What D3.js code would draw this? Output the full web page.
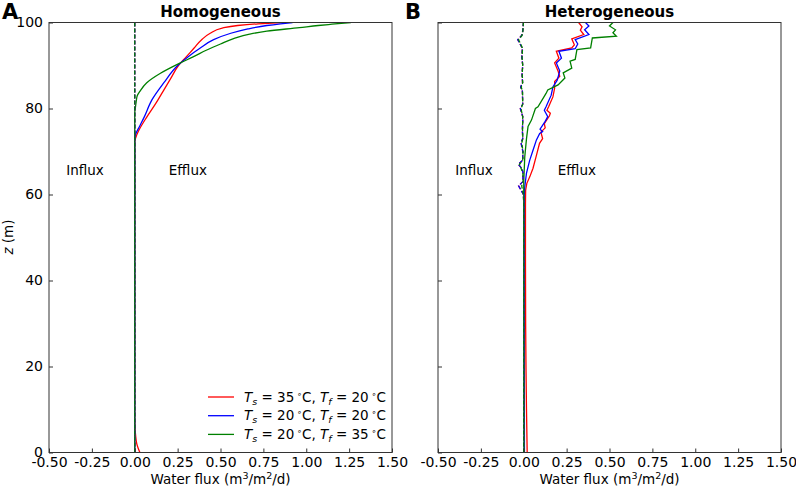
<!DOCTYPE html>
<html><head><meta charset="utf-8">
<script src="https://cdn.jsdelivr.net/npm/d3@7"></script>
<style>
body{margin:0;background:#fff;}
text{font-family:"DejaVu Sans",sans-serif;}
</style></head>
<body><svg id="c" width="796" height="487"></svg>
<script>
// ---------- data: [z (m), water flux (m3/m2/d)] ----------
const xTicks = [-0.5,-0.25,0,0.25,0.5,0.75,1.0,1.25,1.5];
const yTicks = [0,20,40,60,80,100];
const panelTitles = ["Homogeneous","Heterogeneous"];
const panelLetters = ["A","B"];
const legendLabels = [["35","20"],["20","20"],["20","35"]];
const seriesColors = ["#ff0000","#0000ff","#008000"];

const homRed = [[0,0.03],[1,0.02],[2,0.012],[4,0.005],[7,0.001],[10,0],[72,0],[73,0.004],[75,0.025],[78,0.07],[81,0.12],[84,0.165],[87,0.21],[90,0.255],[92,0.30],[94,0.345],[96,0.39],[97.5,0.44],[98.7,0.51],[99.3,0.60],[99.7,0.72],[100,0.86]];
const homBlue = [[0,0],[73,0],[74,0.005],[76,0.03],[78,0.055],[82,0.10],[86,0.17],[90,0.25],[92,0.31],[94,0.38],[96,0.46],[97.5,0.56],[98.5,0.66],[99.3,0.77],[99.7,0.85],[100,0.92]];
const homGreen = [[0,0],[79,0],[80,0.003],[81.5,0.008],[83,0.015],[84,0.03],[86,0.07],[88.2,0.15],[90.5,0.26],[92,0.34],[93.6,0.42],[95,0.50],[96.3,0.58],[97.3,0.67],[98,0.77],[98.8,0.96],[99.3,1.07],[99.6,1.15],[100,1.26]];
const homInflux = [[0,0],[100,0]];

const hetRed = [[0,0.02],[10,0.016],[20,0.013],[30,0.011],[45,0.01],[58,0.01],[61,0.011],[62.6,0.018],[64.1,0.035],[66.1,0.054],[68.8,0.072],[71.9,0.092],[73,0.11],[74.5,0.10],[75.5,0.125],[76.5,0.12],[78.3,0.15],[78.9,0.155],[79.6,0.135],[80.4,0.145],[82.7,0.17],[84.7,0.18],[86.3,0.18],[87.5,0.21],[88.7,0.20],[90.6,0.18],[91.7,0.205],[93.3,0.19],[94.1,0.28],[94.8,0.295],[96.2,0.28],[97.2,0.35],[98.2,0.33],[99,0.34],[100,0.32]];
const hetBlue = [[0,0.004],[30,0.003],[60,0.003],[61.8,0.006],[65,0.016],[68,0.035],[70.3,0.054],[72.7,0.074],[74.2,0.093],[74.6,0.11],[75.2,0.095],[77,0.125],[78.1,0.14],[79.6,0.12],[80.4,0.13],[83.1,0.16],[85,0.17],[86.6,0.195],[88.7,0.21],[90.6,0.19],[91.7,0.22],[93.3,0.205],[93.9,0.30],[95,0.315],[96,0.30],[97.2,0.38],[98.3,0.355],[99.2,0.38],[100,0.36]];
const hetGreen = [[0,0.001],[30,0.0],[63,0.0],[65,0.002],[68.8,0.006],[73,0.016],[75.8,0.025],[77.3,0.045],[80,0.068],[80.4,0.083],[83.5,0.13],[84.3,0.14],[85.5,0.20],[87.1,0.24],[88.3,0.23],[89.4,0.28],[91,0.27],[91.4,0.30],[93.7,0.31],[94.1,0.39],[96.4,0.40],[96.8,0.54],[97.6,0.52],[98.3,0.535],[99.2,0.50],[100,0.52]];
const hetInfluxBlue = [[0,0],[58,0],[60,-0.002],[62,-0.03],[63,-0.005],[65,-0.004],[66,-0.01],[67,-0.032],[68,-0.006],[70,-0.005],[72,-0.016],[73,-0.006],[75,-0.008],[78,-0.005],[80,-0.02],[81,-0.006],[84,-0.008],[85,-0.018],[86,-0.007],[88,-0.01],[90,-0.006],[92,-0.011],[94,-0.008],[96,-0.035],[97,-0.012],[98,-0.006],[100,-0.002]];
const hetInfluxGreen = [[0,0],[58,0],[60,-0.002],[62,-0.012],[63,-0.004],[65,-0.005],[67,-0.025],[68,-0.006],[70,-0.004],[72,-0.012],[73,-0.005],[75,-0.007],[78,-0.006],[80,-0.016],[81,-0.006],[84,-0.007],[85,-0.015],[86,-0.006],[88,-0.009],[90,-0.006],[92,-0.01],[94,-0.007],[96,-0.03],[97,-0.01],[98,-0.005],[100,-0.002]];

// ---------- layout ----------
const svg = d3.select("#c");
const y = d3.scaleLinear([0,100],[452.5,22.5]);
const panels = [
  {x:d3.scaleLinear([-0.5,1.5],[49,392]), eff:[homRed,homBlue,homGreen], inf:[homInflux,homInflux,homInflux], curve:d3.curveMonotoneY, yLabels:true, letterX:2},
  {x:d3.scaleLinear([-0.5,1.5],[438,781]), eff:[hetRed,hetBlue,hetGreen], inf:[hetInfluxBlue,hetInfluxBlue,hetInfluxGreen], curve:d3.curveLinear, yLabels:false, letterX:405}
];

panels.forEach((p,i)=>{
  const x = p.x, [x0,x1] = x.range();
  const g = svg.append("g");
  const line = d3.line().x(d=>x(d[1])).y(d=>y(d[0])).curve(p.curve);
  const clipId = "clip"+i;
  svg.append("clipPath").attr("id",clipId).append("rect").attr("x",x0).attr("y",22.5).attr("width",x1-x0).attr("height",430);
  const lines = g.append("g").attr("clip-path",`url(#${clipId})`);
  p.eff.forEach((s,k)=>lines.append("path").attr("d",line(s)).attr("fill","none").attr("stroke",seriesColors[k]).attr("stroke-width",1.3));
  p.inf.forEach((s,k)=>lines.append("path").attr("d",line(s)).attr("fill","none").attr("stroke",seriesColors[k]).attr("stroke-width",1.3).attr("stroke-dasharray","4,2"));

  // axes
  const ax = g.append("g").attr("transform","translate(0,452.5)")
    .call(d3.axisBottom(x).tickValues(xTicks).tickSize(-4).tickPadding(5).tickFormat(d3.format(".2f")));
  const ay = g.append("g").attr("transform",`translate(${x0},0)`)
    .call(d3.axisLeft(y).tickValues(yTicks).tickSize(-4).tickPadding(6).tickFormat(p.yLabels?d3.format("d"):()=>""));
  [ax,ay].forEach(a=>{a.select(".domain").remove(); a.selectAll("text").attr("font-size",14).attr("fill","#000"); a.selectAll("line").attr("stroke","#333").attr("stroke-width",1);});
  ax.selectAll("text").text(d=>d3.format(".2f")(d).replace("\u2212","-"));
  g.append("rect").attr("x",x0).attr("y",22.5).attr("width",x1-x0).attr("height",430).attr("fill","none").attr("stroke","#333").attr("stroke-width",1);

  // titles
  const cx = (x0+x1)/2;
  g.append("text").attr("x",cx).attr("y",17).attr("text-anchor","middle").attr("font-size",15).attr("font-weight","bold").text(panelTitles[i]);
  g.append("text").attr("x",p.letterX).attr("y",19).attr("font-size",21).attr("font-weight","bold").text(panelLetters[i]);
  const xl = g.append("text").attr("x",cx).attr("y",483.5).attr("text-anchor","middle").attr("font-size",13.5);
  xl.append("tspan").text("Water flux (m");
  xl.append("tspan").attr("dy",-5).attr("font-size",9.5).text("3");
  xl.append("tspan").attr("dy",5).text("/m");
  xl.append("tspan").attr("dy",-5).attr("font-size",9.5).text("2");
  xl.append("tspan").attr("dy",5).text("/d)");
  g.append("text").attr("x",x(-0.29)).attr("y",y(64.6)).attr("text-anchor","middle").attr("font-size",13.5).text("Influx");
  g.append("text").attr("x",x(0.31)).attr("y",y(64.6)).attr("text-anchor","middle").attr("font-size",13.5).text("Efflux");
});

// y label
const yl = svg.append("text").attr("transform","translate(13,237) rotate(-90)").attr("text-anchor","middle").attr("font-size",13.5);
yl.append("tspan").attr("font-style","italic").text("z");
yl.append("tspan").text(" (m)");

// legend
const lg = svg.append("g");
legendLabels.forEach((l,k)=>{
  const yy = 397 + k*18.7;
  lg.append("line").attr("x1",208).attr("x2",234).attr("y1",yy).attr("y2",yy).attr("stroke",seriesColors[k]).attr("stroke-width",1.3);
  const t = lg.append("text").attr("x",244).attr("y",yy+4.5).attr("font-size",13.5);
  t.append("tspan").attr("font-style","italic").text("T");
  t.append("tspan").attr("font-style","italic").attr("font-size",9.5).attr("dy",3).text("s");
  t.append("tspan").attr("dy",-3).text(" = " + l[0] + "\u2009");
  t.append("tspan").attr("font-size",8).attr("dy",-5).text("\u2218");
  t.append("tspan").attr("dy",5).text("C, ");
  t.append("tspan").attr("font-style","italic").text("T");
  t.append("tspan").attr("font-style","italic").attr("font-size",9.5).attr("dy",3).text("f");
  t.append("tspan").attr("dy",-3).text(" = " + l[1] + "\u2009");
  t.append("tspan").attr("font-size",8).attr("dy",-5).text("\u2218");
  t.append("tspan").attr("dy",5).text("C");
});
</script></body></html>
